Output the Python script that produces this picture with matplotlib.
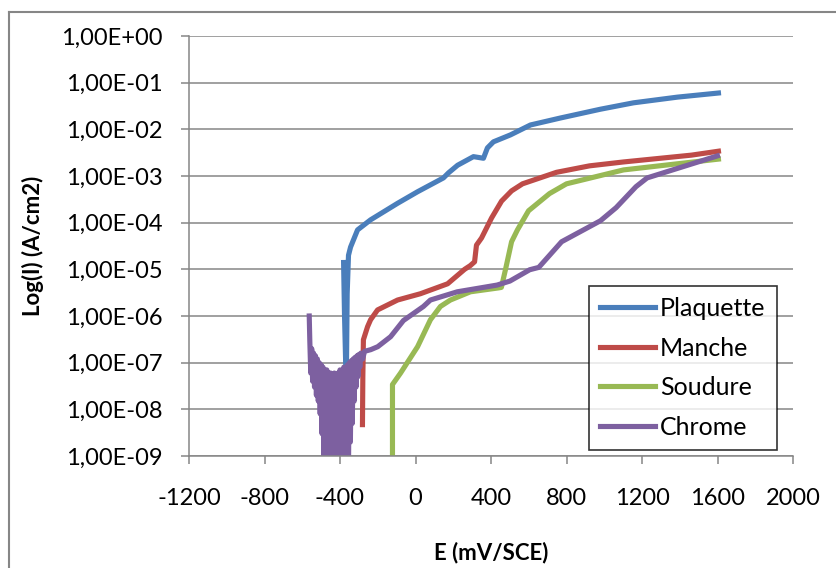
import math
import matplotlib
matplotlib.use("Agg")
import matplotlib.pyplot as plt
from matplotlib.lines import Line2D
from matplotlib.ticker import FixedLocator, FuncFormatter, NullLocator

plt.rcParams['font.family'] = ['Lato', 'DejaVu Sans']
plt.rcParams['axes.unicode_minus'] = False

# Plaquette (blue)
e_plaquette = [-381, -376, -370, -366, -362, -355, -344, -307, -238, -95, 11, 148, 175,
               223, 307, 360, 381, 413, 503, 609, 768, 980, 1155, 1388, 1605]
i_plaquette = [1.4e-5, 1e-6, 1e-7, 6e-8, 3e-6, 2e-5, 3e-5, 7e-5, 1.15e-4, 2.6e-4, 4.6e-4,
               9.1e-4, 1.17e-3, 1.7e-3, 2.6e-3, 2.4e-3, 4e-3, 5.4e-3, 7.6e-3, 1.24e-2,
               1.75e-2, 2.7e-2, 3.7e-2, 4.9e-2, 6.0e-2]

# Manche (red)
e_manche = [-281, -279, -276, -254, -238, -201, -95, 26, 170, 260, 290, 313, 323, 350,
            403, 456, 509, 567, 747, 922, 1102, 1462, 1605]
i_manche = [4.7e-9, 5e-8, 3.1e-7, 5.9e-7, 8.3e-7, 1.35e-6, 2.2e-6, 3.0e-6, 4.9e-6, 1.0e-5,
            1.2e-5, 1.45e-5, 3.3e-5, 4.7e-5, 1.26e-4, 2.9e-4, 4.8e-4, 6.8e-4, 1.2e-3,
            1.65e-3, 2.0e-3, 2.8e-3, 3.4e-3]

# Soudure (green)
e_soudure = [-122, -122, -79, 11, 79, 132, 185, 291, 440, 455, 477, 509, 540, 599, 710,
             800, 1102, 1605]
i_soudure = [8e-10, 3.4e-8, 6e-8, 2.2e-7, 8.3e-7, 1.6e-6, 2.2e-6, 3.3e-6, 4.0e-6, 4.1e-6,
             1.0e-5, 3.9e-5, 7e-5, 1.8e-4, 4.2e-4, 6.8e-4, 1.35e-3, 2.3e-3]

# Chrome (purple), noisy cathodic part then anodic branch
e_chrome = [-563, -560, -555, -550, -545, -540, -535, -530, -525, -520, -515, -510, -505,
            -500, -495, -490, -485, -480, -475, -470, -465, -460, -455, -450, -445, -440,
            -435, -430, -425, -420, -415, -410, -405, -400, -395, -390, -385, -380, -375,
            -370, -365, -360, -355, -350, -345, -340, -335, -330, -325, -320, -315, -310,
            -305, -300, -295, -290, -280, -270, -237, -200, -132, -64, 42, 79, 221, 432,
            500, 605, 653, 774, 980, 1063, 1168, 1227, 1600]
i_chrome = [1.0e-6, 3.0e-7, 6e-8, 2.0e-7, 4e-8, 1.6e-7, 3e-8, 1.4e-7, 2e-8, 1.2e-7, 1.5e-8,
            1.0e-7, 8e-9, 9e-8, 3e-9, 8e-8, 5e-10, 7e-8, 5e-10, 7e-8, 5e-10, 6e-8, 5e-10,
            6e-8, 5e-10, 5e-8, 5e-10, 6e-8, 5e-10, 5e-8, 5e-10, 6e-8, 5e-10, 7e-8, 5e-10,
            6e-8, 5e-10, 8e-8, 5e-10, 7e-8, 5e-10, 9e-8, 6e-10, 1.0e-7, 2e-9, 1.1e-7, 5e-9,
            1.2e-7, 1.5e-8, 1.3e-7, 3e-8, 1.4e-7, 5e-8, 1.5e-7, 8e-8, 1.6e-7, 1.2e-7,
            1.75e-7, 1.9e-7, 2.2e-7, 3.6e-7, 8e-7, 1.6e-6, 2.2e-6, 3.3e-6, 4.6e-6, 5.6e-6,
            9.8e-6, 1.1e-5, 3.9e-5, 1.1e-4, 2.1e-4, 5.9e-4, 9.1e-4, 2.7e-3]

x_ticks = [-1200, -800, -400, 0, 400, 800, 1200, 1600, 2000]
y_exponents = [0, -1, -2, -3, -4, -5, -6, -7, -8, -9]

fig = plt.figure(figsize=(8.36, 5.68), dpi=100)
ax = fig.add_axes([189 / 836, 1 - 456 / 568, 604 / 836, 420 / 568])

lw = 3.7
ax.plot(e_plaquette, i_plaquette, color="#4A7EBB", lw=lw, label="Plaquette")
ax.plot(e_manche, i_manche, color="#BE4B48", lw=lw, label="Manche")
ax.plot(e_soudure, i_soudure, color="#98B954", lw=lw, label="Soudure")
ax.plot(e_chrome, i_chrome, color="#7D60A0", lw=lw, label="Chrome")

ax.set_yscale("log")
ax.set_xlim(-1200, 2000)
ax.set_ylim(1e-9, 1)
ax.xaxis.set_major_locator(FixedLocator(x_ticks))
ax.yaxis.set_major_locator(FixedLocator([10.0 ** e for e in y_exponents]))
ax.yaxis.set_minor_locator(NullLocator())
ax.yaxis.set_major_formatter(FuncFormatter(lambda v, p: "1,00E%+03d" % round(math.log10(v))))

grey = "#868686"
ax.grid(axis="y", color=grey, lw=1.1)
ax.set_axisbelow(True)
for s in ["top", "right"]:
    ax.spines[s].set_visible(False)
for s in ["left", "bottom"]:
    ax.spines[s].set_color(grey)
    ax.spines[s].set_linewidth(1.1)
ax.tick_params(axis="y", direction="out", length=6, width=1.1, color=grey,
               labelsize=17, pad=13)
ax.tick_params(axis="x", direction="out", length=6, width=1.1, color=grey,
               labelsize=17, pad=17)

ax.set_xlabel("E (mV/SCE)", fontsize=16, fontweight="bold")
ax.set_ylabel("Log(I) (A/cm2)", fontsize=16, fontweight="bold")
ax.xaxis.set_label_coords(0.5, -0.205)
ax.yaxis.set_label_coords(-0.24, 0.5)

leg = ax.legend(loc="upper left", bbox_to_anchor=(0.662, 0.405), fontsize=18,
                frameon=True, fancybox=False, handlelength=2.2, handletextpad=0.2,
                labelspacing=0.66, borderpad=0.45, borderaxespad=0)
leg.get_frame().set_edgecolor("black")
leg.get_frame().set_linewidth(1.2)
for h in leg.get_lines():
    h.set_linewidth(3.7)

# outer chart border
fig.add_artist(Line2D([9 / 836, 9 / 836], [0, 1 - 12 / 568], color=grey, lw=1.5))
fig.add_artist(Line2D([9 / 836, 1], [1 - 12 / 568, 1 - 12 / 568], color=grey, lw=1.5))

fig.savefig("out.png", dpi=100)
